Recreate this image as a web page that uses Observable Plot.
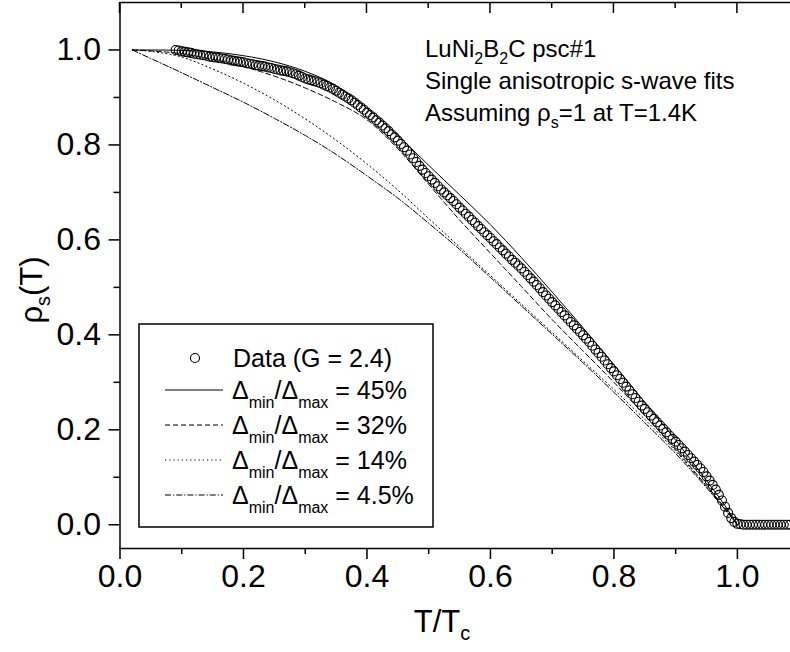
<!DOCTYPE html>
<html>
<head>
<meta charset="utf-8">
<script src="https://cdn.jsdelivr.net/npm/d3@7"></script>
<script src="https://cdn.jsdelivr.net/npm/@observablehq/plot@0.6"></script>
<style>
  html, body { margin: 0; padding: 0; background: white; }
  svg { display: block; }
</style>
</head>
<body>
<div id="chart"></div>
<script>
const FONT = "'Liberation Sans', Arial, Helvetica, sans-serif";

// Measured data: T/Tc and rho_s(T)
const dataT = [
  0.090,0.095,0.100,0.105,0.110,0.115,0.120,0.125,0.130,0.135,
  0.140,0.145,0.150,0.155,0.160,0.165,0.170,0.175,0.180,0.185,
  0.190,0.195,0.200,0.205,0.210,0.215,0.220,0.225,0.230,0.235,
  0.240,0.245,0.250,0.255,0.260,0.265,0.270,0.275,0.280,0.285,
  0.290,0.295,0.300,0.305,0.310,0.315,0.320,0.325,0.330,0.335,
  0.340,0.345,0.350,0.355,0.360,0.365,0.370,0.375,0.380,0.385,
  0.390,0.395,0.400,0.405,0.410,0.415,0.420,0.425,0.430,0.435,
  0.440,0.445,0.450,0.455,0.460,0.465,0.470,0.475,0.480,0.485,
  0.490,0.495,0.500,0.505,0.510,0.515,0.520,0.525,0.530,0.535,
  0.540,0.545,0.550,0.555,0.560,0.565,0.570,0.575,0.580,0.585,
  0.590,0.595,0.600,0.605,0.610,0.615,0.620,0.625,0.630,0.635,
  0.640,0.645,0.650,0.655,0.660,0.665,0.670,0.675,0.680,0.685,
  0.690,0.695,0.700,0.705,0.710,0.715,0.720,0.725,0.730,0.735,
  0.740,0.745,0.750,0.755,0.760,0.765,0.770,0.775,0.780,0.785,
  0.790,0.795,0.800,0.805,0.810,0.815,0.820,0.825,0.830,0.835,
  0.840,0.845,0.850,0.855,0.860,0.865,0.870,0.875,0.880,0.885,
  0.890,0.895,0.900,0.905,0.910,0.915,0.920,0.925,0.930,0.935,
  0.940,0.945,0.950,0.955,0.960,0.965,0.970,0.975,0.980,0.985,
  0.990,0.995,1.000,1.005,1.010,1.015,1.020,1.025,1.030,1.035,
  1.040,1.045,1.050,1.055,1.060,1.065,1.070,1.075,1.080,1.085
];
const dataRho = [
  1.000,0.999,0.997,0.996,0.995,0.994,0.992,0.991,0.990,0.989,
  0.988,0.986,0.985,0.984,0.983,0.982,0.981,0.980,0.978,0.977,
  0.976,0.975,0.974,0.972,0.971,0.970,0.968,0.967,0.966,0.965,
  0.963,0.962,0.960,0.959,0.957,0.956,0.955,0.953,0.951,0.949,
  0.946,0.943,0.940,0.938,0.936,0.934,0.932,0.930,0.927,0.924,
  0.921,0.918,0.914,0.910,0.906,0.902,0.898,0.894,0.889,0.884,
  0.879,0.874,0.868,0.863,0.858,0.852,0.847,0.841,0.835,0.829,
  0.822,0.816,0.809,0.802,0.795,0.788,0.780,0.772,0.764,0.756,
  0.748,0.741,0.734,0.727,0.720,0.713,0.706,0.700,0.694,0.688,
  0.682,0.675,0.668,0.662,0.655,0.649,0.642,0.636,0.629,0.623,
  0.616,0.610,0.604,0.597,0.591,0.584,0.578,0.571,0.565,0.558,
  0.552,0.546,0.540,0.533,0.526,0.519,0.512,0.505,0.498,0.490,
  0.483,0.476,0.469,0.462,0.455,0.448,0.441,0.434,0.427,0.420,
  0.413,0.406,0.399,0.392,0.385,0.377,0.369,0.362,0.354,0.346,
  0.338,0.330,0.323,0.315,0.307,0.299,0.291,0.283,0.275,0.267,
  0.259,0.251,0.244,0.237,0.230,0.223,0.216,0.209,0.202,0.195,
  0.188,0.181,0.175,0.168,0.161,0.154,0.147,0.140,0.133,0.126,
  0.119,0.111,0.102,0.093,0.084,0.074,0.063,0.051,0.038,0.025,
  0.014,0.006,0.002,0.001,0,0,0,0,0,0,
  0,0,0,0,0,0,0,0,0,0
];

// Fit curves (single anisotropic s-wave), sampled at fitT
const fitT    = [0.02, 0.05, 0.10, 0.15, 0.20, 0.25, 0.30, 0.35, 0.40, 0.45, 0.50, 0.55, 0.60, 0.65, 0.70, 0.75, 0.80, 0.85, 0.90, 0.95, 0.98, 1.00];
const fit45   = [1.000,1.000,0.999,0.996,0.988,0.975,0.955,0.925,0.877,0.820,0.757,0.695,0.632,0.563,0.490,0.415,0.337,0.258,0.178,0.093,0.040,0.000];
const fit32   = [1.000,0.998,0.992,0.980,0.965,0.945,0.920,0.890,0.853,0.792,0.717,0.642,0.572,0.502,0.432,0.366,0.300,0.230,0.158,0.082,0.035,0.000];
const fit14   = [1.000,0.997,0.985,0.960,0.930,0.895,0.855,0.810,0.760,0.705,0.645,0.585,0.525,0.465,0.405,0.345,0.285,0.222,0.155,0.080,0.033,0.000];
const fit045  = [1.000,0.982,0.952,0.921,0.890,0.856,0.820,0.780,0.735,0.688,0.635,0.580,0.521,0.461,0.401,0.341,0.279,0.215,0.150,0.078,0.032,0.000];

const fitNames  = ["45%", "32%", "14%", "4.5%"];
const fitDashes = ["none", "5,3", "1.2,3", "6,2,1.2,2"];

// Axis ticks
const xMajor = [0, 0.2, 0.4, 0.6, 0.8, 1.0];
const xMinor = [0.1, 0.3, 0.5, 0.7, 0.9];
const yMajor = [0, 0.2, 0.4, 0.6, 0.8, 1.0];
const yMinor = [0.1, 0.3, 0.5, 0.7, 0.9];
const xDomain = [0, 1.086];
const yDomain = [-0.05, 1.1];

const points = dataT.map((t, i) => ({T: t, rho: dataRho[i]}));
const fitSeries = [fit45, fit32, fit14, fit045];
const fitRows = fitT.map((t, i) => ({T: t, s0: fit45[i], s1: fit32[i], s2: fit14[i], s3: fit045[i]}));

const fmt = d3.format(".1f");
const blank = () => "";

const chart = Plot.plot({
  width: 790,
  height: 652,
  marginLeft: 119.5,
  marginRight: 0,
  marginTop: 2,
  marginBottom: 104,
  x: {domain: xDomain},
  y: {domain: yDomain},
  style: {fontFamily: FONT, background: "white", color: "black", overflow: "hidden"},
  marks: [
    Plot.axisX(xMajor, {anchor: "bottom", tickSize: 11, tickPadding: 5, fontSize: 32, tickFormat: fmt, label: null, strokeWidth: 1.5}),
    Plot.axisX(xMinor, {anchor: "bottom", tickSize: 6, tickFormat: blank, label: null, strokeWidth: 1.5}),
    Plot.axisY(yMajor, {anchor: "left", tickSize: 11, tickPadding: 8, fontSize: 32, tickFormat: fmt, label: null, strokeWidth: 1.5}),
    Plot.axisY(yMinor, {anchor: "left", tickSize: 6, tickFormat: blank, label: null, strokeWidth: 1.5}),
    Plot.ruleX([xDomain[0]], {stroke: "black", strokeWidth: 1.5}),
    Plot.ruleY([yDomain[0]], {stroke: "black", strokeWidth: 1.5}),
    Plot.ruleY([yDomain[1]], {stroke: "black", strokeWidth: 1.5}),
    ...fitSeries.map((s, k) => Plot.line(fitRows, {
      x: "T", y: `s${k}`, curve: "monotone-x",
      stroke: "black", strokeWidth: 1, strokeDasharray: fitDashes[k]
    })),
    Plot.dot(points, {x: "T", y: "rho", r: 4.5, stroke: "black", strokeWidth: 1.1, fill: "none"})
  ]
});

document.getElementById("chart").appendChild(chart);

const svg = d3.select(chart);
const xs = chart.scale("x");
const ys = chart.scale("y");

// Inward ticks on the top frame, placed through Plot's x scale
const topY = ys.apply(yDomain[1]);
const topTicks = svg.append("g").attr("stroke", "black").attr("stroke-width", 1.5);
[[xMajor, 11], [xMinor, 6]].forEach(([vals, len]) => {
  vals.forEach(v => {
    const px = xs.apply(v);
    topTicks.append("line").attr("x1", px).attr("x2", px)
      .attr("y1", topY).attr("y2", topY + len);
  });
});

// ---- Rich text helpers ----
const over = svg.append("g").attr("font-family", FONT).attr("fill", "black")
  .attr("text-anchor", "start");

function rich(text, parts, subSize, subShift) {
  let pending = 0;
  parts.forEach(p => {
    if (typeof p === "string") {
      const ts = text.append("tspan").text(p);
      if (pending) ts.attr("dy", -pending);
      pending = 0;
    } else {
      text.append("tspan").attr("font-size", subSize).attr("dy", subShift).text(p.sub);
      pending = subShift;
    }
  });
}

// Annotation (top right)
const annLines = [
  ["LuNi", {sub: "2"}, "B", {sub: "2"}, "C psc#1"],
  ["Single anisotropic s-wave fits"],
  ["Assuming \u03C1", {sub: "s"}, "=1 at T=1.4K"]
];
const annY = [57, 89, 121];
annLines.forEach((parts, i) => {
  const t = over.append("text").attr("x", 425).attr("y", annY[i]).attr("font-size", 24)
    .attr("text-anchor", "start");
  rich(t, parts, 16, 7);
});

// Axis titles
const yTitle = over.append("text")
  .attr("transform", "translate(42,290) rotate(-90)")
  .attr("text-anchor", "middle").attr("font-size", 31);
rich(yTitle, ["\u03C1", {sub: "s"}, "(T)"], 20, 8);

const xTitle = over.append("text")
  .attr("x", 442).attr("y", 632)
  .attr("text-anchor", "middle").attr("font-size", 31);
rich(xTitle, ["T/T", {sub: "c"}], 20, 8);

// Legend
const lg = over.append("g");
lg.append("rect").attr("x", 139).attr("y", 324).attr("width", 294).attr("height", 203)
  .attr("fill", "white").attr("stroke", "black").attr("stroke-width", 1.5);
lg.append("circle").attr("cx", 195).attr("cy", 358).attr("r", 4.5)
  .attr("fill", "none").attr("stroke", "black").attr("stroke-width", 1.1);
lg.append("text").attr("x", 233).attr("y", 367).attr("font-size", 25)
  .attr("text-anchor", "start").text("Data (G = 2.4)");
const rowY = [390, 425, 460, 495];
fitNames.forEach((name, k) => {
  lg.append("line").attr("x1", 165).attr("x2", 223).attr("y1", rowY[k]).attr("y2", rowY[k])
    .attr("stroke", "black").attr("stroke-width", 1)
    .attr("stroke-dasharray", fitDashes[k] === "none" ? null : fitDashes[k]);
  const t = lg.append("text").attr("x", 232).attr("y", rowY[k] + 9).attr("font-size", 25)
    .attr("text-anchor", "start");
  rich(t, ["\u0394", {sub: "min"}, "/\u0394", {sub: "max"}, " = " + name], 16, 9);
});
</script>
</body>
</html>
